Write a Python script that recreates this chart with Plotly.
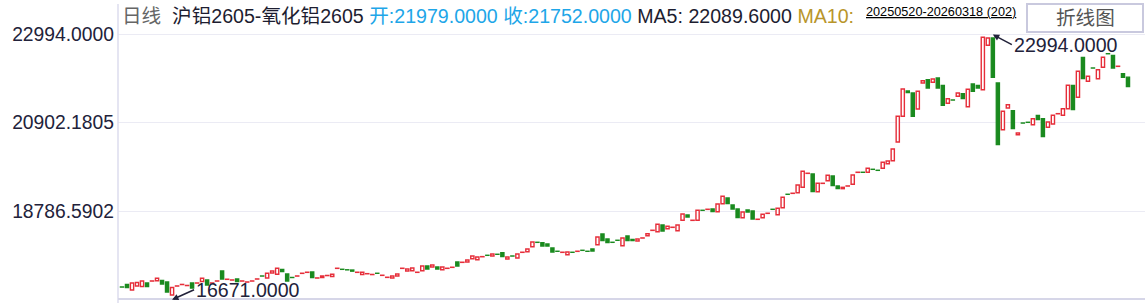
import plotly.graph_objects as go

# ---------------- data ----------------
opens = [
    16976, 17034, 16903, 16998, 16986, 17069, 17115, 17124, 17129, 17093,
    16783, 16996, 17032, 17008, 17069, 17067, 17105, 17141, 17067, 17115,
    17356, 17156, 17139, 17165, 17115, 17091, 17115, 17163, 17238, 17189,
    17308, 17277, 17396, 17284, 17203, 17234, 17299, 17323, 17332, 17187,
    17201, 17246, 17224, 17418, 17398, 17386, 17380, 17323, 17272, 17289,
    17270, 17303, 17251, 17203, 17189, 17236, 17418, 17356, 17363, 17323,
    17363, 17475, 17451, 17451, 17387, 17418, 17442, 17570, 17561, 17570,
    17649, 17625, 17695, 17732, 17713, 17756, 17792, 17642, 17715, 17666,
    17800, 17816, 17935, 18042, 18031, 18000, 17904, 17828, 17800, 17744,
    17804, 17824, 17851, 17828, 17880, 17983, 18238, 18119, 18042, 18090,
    17959, 18190, 18112, 18071, 18141, 18198, 18324, 18293, 18453, 18364,
    18396, 18317, 18565, 18691, 18563, 18565, 18805, 18825, 18834, 18770,
    18961, 19097, 18930, 18834, 18627, 18810, 18787, 18587, 18627, 18730,
    18829, 18698, 18865, 19187, 19207, 19223, 19352, 19684, 19669, 19247,
    19445, 19509, 19621, 19383, 19319, 19381, 19423, 19708, 19712, 19710,
    19783, 19759, 19805, 19915, 19986, 20432, 21045, 21649, 21601, 21219,
    21839, 21918, 21856, 21959, 21785, 21355, 21436, 21522, 21584, 21274,
    21816, 21785, 21680, 22739, 22913, 21839, 20726, 21243, 21179, 20606,
    20887, 20904, 20845, 21069, 20988, 20783, 20862, 21105, 21069, 21226,
    21785, 21498, 22452, 21880, 22199, 21942, 22214, 22540, 22500, 22236,
    22061, 21979,
]
closes = [
    16972, 16962, 17069, 17081, 17117, 16981, 17119, 17181, 17046, 16855,
    16962, 17000, 17036, 17012, 16950, 17071, 17181, 17022, 17071, 17119,
    17165, 17160, 17143, 17100, 17119, 17095, 17119, 17167, 17234, 17301,
    17356, 17420, 17339, 17117, 17199, 17238, 17303, 17327, 17201, 17191,
    17236, 17250, 17277, 17422, 17394, 17382, 17351, 17327, 17325, 17293,
    17274, 17299, 17255, 17207, 17236, 17284, 17422, 17403, 17427, 17327,
    17475, 17403, 17499, 17403, 17451, 17422, 17446, 17475, 17565, 17618,
    17713, 17690, 17699, 17728, 17761, 17752, 17697, 17690, 17711, 17761,
    17804, 17880, 18047, 18038, 17952, 17952, 17809, 17824, 17804, 17809,
    17800, 17828, 17847, 17824, 17833, 18167, 18078, 18031, 18038, 18086,
    18143, 18078, 18078, 18119, 18145, 18245, 18328, 18469, 18310, 18422,
    18400, 18453, 18715, 18644, 18567, 18803, 18801, 18829, 18770, 18954,
    19137, 18961, 18834, 18627, 18763, 18763, 18596, 18591, 18708, 18734,
    18825, 18851, 19113, 19183, 19211, 19407, 19734, 19688, 19247, 19447,
    19449, 19638, 19390, 19319, 19352, 19385, 19645, 19712, 19708, 19805,
    19779, 19755, 19948, 19979, 20265, 21045, 21696, 21613, 21045, 21641,
    21894, 21720, 21935, 21720, 21308, 21465, 21432, 21601, 21465, 21689,
    21641, 21720, 22929, 22913, 21975, 20368, 21164, 21322, 20749, 20647,
    20883, 20900, 20988, 20964, 20559, 20909, 21069, 21109, 21226, 21785,
    21203, 22118, 21942, 21999, 22195, 22157, 22452, 22536, 22197, 22240,
    21975, 21752,
]
high_value = 22994.0
high_index = 174
low_value = 16671.0
low_index = 10
ytick_vals = [18786.5902, 20902.1805, 22994.0]
ytick_text = ["18786.5902", "20902.1805", "22994.0000"]
ma5_value = 22089.6
start_date = "20250520"
end_date = "20260318"

# ---------------- styles ----------------
RED = "#e62e3a"
GREEN = "#1a8a1f"
NAVY = "#22223a"
FONT = "Liberation Sans, Arial, Noto Sans CJK SC, sans-serif"
FS = 19.6
W, H = 1145, 303
L, T, B = 118, 33, 3
PW, PH = W - L, H - T - B


def px_x(p):
    return (p - L) / PW


def px_y(p):
    return (H - B - p) / PH


idx = list(range(len(opens)))
up = [i for i in idx if closes[i] >= opens[i]]
dn = [i for i in idx if closes[i] < opens[i]]

fig = go.Figure()
fig.add_trace(go.Bar(
    x=up, base=[opens[i] for i in up], y=[closes[i] - opens[i] for i in up],
    width=0.64, marker=dict(color="white", line=dict(color=RED, width=1.4)),
    hoverinfo="skip",
))
fig.add_trace(go.Bar(
    x=dn, base=[closes[i] for i in dn], y=[opens[i] - closes[i] for i in dn],
    width=0.64, marker=dict(color=GREEN, line=dict(color=GREEN, width=1.3)),
    hoverinfo="skip",
))

n = len(opens)
fig.update_layout(
    width=W, height=H,
    margin=dict(l=L, r=0, t=T, b=B, pad=0),
    plot_bgcolor="white", paper_bgcolor="white",
    showlegend=False, barmode="overlay",
    font=dict(family=FONT, size=FS, color=NAVY),
    xaxis=dict(range=[-0.8, n - 1 + 3.4], showgrid=False, zeroline=False,
               showticklabels=False, showline=False, ticks=""),
    yaxis=dict(range=[16664, 23032], tickvals=ytick_vals, ticktext=ytick_text,
               showgrid=True, gridcolor="#ebebf4", gridwidth=1, zeroline=False,
               showline=False, ticks="", ticklabelstandoff=3,
               tickfont=dict(family=FONT, size=19.3, color=NAVY)),
)

# axis lines
fig.add_shape(type="line", xref="paper", yref="paper", x0=0, x1=0,
              y0=px_y(H), y1=px_y(4), line=dict(color="#dcdcee", width=1.5))
fig.add_shape(type="line", xref="paper", yref="paper", x0=0, x1=1,
              y0=px_y(299), y1=px_y(299), line=dict(color="#d6d6e8", width=2))

# button
fig.add_shape(type="rect", xref="paper", yref="paper",
              x0=px_x(1027), x1=px_x(1143), y0=px_y(32), y1=px_y(4),
              line=dict(color="#c9c9de", width=2), fillcolor="white")
fig.add_annotation(xref="paper", yref="paper", x=px_x(1085), y=px_y(18),
                   text="折线图", showarrow=False, xanchor="center", yanchor="middle",
                   font=dict(family=FONT, size=FS, color="#555555"))

# title line
nb = "\u00a0"
title = (
    f'<span style="color:#666666">日线</span>{nb}{nb}'
    f'<span style="color:#1d1d30">沪铝2605-氧化铝2605</span>{nb}'
    f'<span style="color:#1ea6e8">开:{opens[-1]:.4f}{nb}收:{closes[-1]:.4f}</span>{nb}'
    f'<span style="color:#1d1d30">MA5:{nb}{ma5_value:.4f}</span>{nb}'
    f'<span style="color:#b8952a">MA10:</span>'
)
fig.add_annotation(xref="paper", yref="paper", x=px_x(119.5), y=px_y(16),
                   text=title, showarrow=False, xanchor="left", yanchor="middle",
                   font=dict(family=FONT, size=FS, color=NAVY))
fig.add_annotation(xref="paper", yref="paper", x=px_x(864), y=px_y(12.5),
                   text=f"<u>{start_date}-{end_date} ({n})</u>", showarrow=False,
                   xanchor="left", yanchor="middle",
                   font=dict(family=FONT, size=12.7, color="#000000"))

# max / min markers
fig.add_annotation(x=high_index, y=high_value, text=f"{high_value:.4f}",
                   showarrow=True, ax=19, ay=10, xanchor="left", yanchor="middle",
                   arrowhead=2, arrowsize=0.8, arrowwidth=1.6, arrowcolor=NAVY,
                   font=dict(family=FONT, size=FS, color=NAVY))
fig.add_annotation(x=low_index, y=low_value, text=f"{low_value:.4f}",
                   showarrow=True, ax=22, ay=-10, xanchor="left", yanchor="middle",
                   arrowhead=2, arrowsize=0.8, arrowwidth=1.6, arrowcolor=NAVY,
                   font=dict(family=FONT, size=FS, color=NAVY))

fig.write_html("out.html", config={"displayModeBar": False})
